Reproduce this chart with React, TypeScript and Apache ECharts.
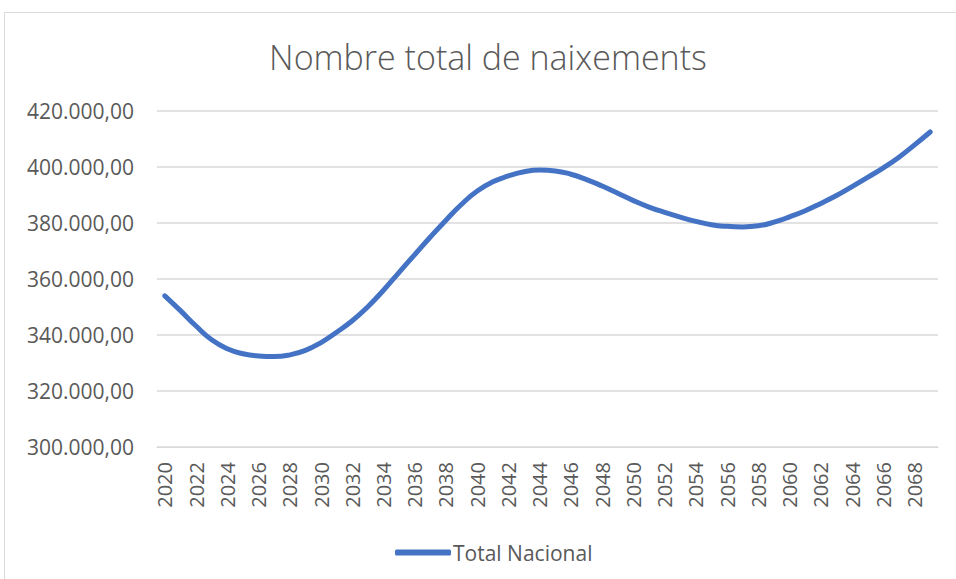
import React, { useEffect, useRef } from "react";
import * as echarts from "echarts";

const TITLE = "Nombre total de naixements";
const SERIES_NAME = "Total Nacional";

const years: string[] = [];
for (let y = 2020; y <= 2069; y++) years.push(String(y));

const values: number[] = [
  354000, 348700, 343200, 338300, 335100, 333300, 332500, 332300, 332900, 334500,
  337300, 341000, 345100, 350100, 356000, 362400, 368700, 375000, 381000, 386700,
  391400, 394700, 396800, 398300, 398900, 398600, 397400, 395500, 393200, 390600,
  388000, 385700, 383800, 382100, 380600, 379400, 378800, 378600, 379000, 380300,
  382200, 384400, 387000, 389800, 393000, 396300, 399700, 403500, 407900, 412500,
];

const Y_MIN = 300000;
const Y_MAX = 420000;
const Y_STEP = 20000;

const FONT = "'Open Sans', 'Noto Sans', sans-serif";
const TEXT = "#595959";
const GRID = "#d9d9d9";
const BLUE = "#4472C4";

function fmt(v: number): string {
  const s = Math.round(v).toString().replace(/\B(?=(\d{3})+(?!\d))/g, ".");
  return s + ",00";
}

export default function App() {
  const ref = useRef<HTMLDivElement>(null);
  useEffect(() => {
    if (!ref.current) return;
    const chart = echarts.init(ref.current, undefined, { renderer: "svg" });
    chart.setOption({
      animation: false,
      backgroundColor: "#ffffff",
      graphic: [
        {
          type: "rect",
          shape: { x: 4.5, y: 12.5, width: 1000, height: 1000 },
          style: { fill: "none", stroke: GRID, lineWidth: 1 },
          silent: true,
        },
        {
          type: "text",
          x: 488,
          y: 57,
          style: {
            text: TITLE,
            fontSize: 34,
            fontFamily: FONT,
            fontWeight: 300,
            fill: TEXT,
            align: "center",
            verticalAlign: "middle",
          },
        },
      ],
      grid: { left: 157, right: 18, top: 111, bottom: 132, containLabel: false },
      legend: {
        left: 390,
        top: 537,
        itemWidth: 56,
        itemHeight: 6,
        itemGap: 10,
        icon: "roundRect",
        textStyle: { color: TEXT, fontSize: 21, fontFamily: FONT, padding: [0, 0, 0, -3] },
        data: [SERIES_NAME],
      },
      xAxis: {
        type: "category",
        data: years,
        boundaryGap: true,
        axisLine: { show: true, lineStyle: { color: GRID, width: 1 } },
        axisTick: { show: false },
        axisLabel: {
          interval: 1,
          rotate: 90,
          margin: 15,
          color: TEXT,
          fontSize: 20,
          fontFamily: FONT,
        },
        splitLine: { show: false },
      },
      yAxis: {
        type: "value",
        min: Y_MIN,
        max: Y_MAX,
        interval: Y_STEP,
        axisLine: { show: false },
        axisTick: { show: false },
        axisLabel: {
          margin: 23,
          color: TEXT,
          fontSize: 21,
          fontFamily: FONT,
          formatter: (v: number) => fmt(v),
        },
        splitLine: { show: true, lineStyle: { color: GRID, width: 1.5 } },
      },
      series: [
        {
          name: SERIES_NAME,
          type: "line",
          data: values,
          smooth: true,
          symbol: "none",
          lineStyle: { color: BLUE, width: 5, cap: "round" },
          itemStyle: { color: BLUE },
        },
      ],
    });
    return () => chart.dispose();
  }, []);
  return (
    <div
      ref={ref}
      style={{ position: "absolute", left: 0, top: 0, width: 956, height: 579 }}
    />
  );
}
